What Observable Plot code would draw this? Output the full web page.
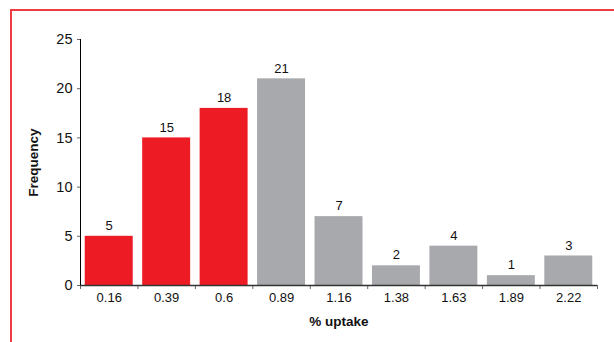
<!DOCTYPE html>
<html>
<head>
<meta charset="utf-8">
<script src="https://cdn.jsdelivr.net/npm/d3@7"></script>
<script src="https://cdn.jsdelivr.net/npm/@observablehq/plot@0.6"></script>
<style>
  html, body { margin: 0; padding: 0; background: #fff; }
  #wrap { position: relative; width: 614px; height: 342px; overflow: hidden; }
  #frame-line {
    position: absolute; left: 10px; top: 9px; right: -4px; bottom: -4px;
    border-top: 2px solid #EF3B43; border-left: 2px solid #EF3B43;
    pointer-events: none;
  }
  #chart svg { font-family: "Liberation Sans Narrow", "Arial Narrow", "Liberation Sans", sans-serif; }
  #chart [aria-label="x-axis label"] text,
  #chart [aria-label="y-axis label"] text { font-weight: bold; fill: #111; }
  #chart [aria-label="x-axis tick label"] text,
  #chart [aria-label="y-axis tick label"] text { fill: #111; }
</style>
</head>
<body>
<div id="wrap">
  <div id="chart"></div>
  <div id="frame-line"></div>
</div>
<script>
// Uptake bins (% uptake) and the number of cases in each
const bins = ["0.16", "0.39", "0.6", "0.89", "1.16", "1.38", "1.63", "1.89", "2.22"];
const counts = [5, 15, 18, 21, 7, 2, 4, 1, 3];
// Bins shown in red
const highlighted = ["0.16", "0.39", "0.6"];
const yTicks = [0, 5, 10, 15, 20, 25];

const RED = "#ED1C24";
const GREY = "#A7A9AC";
const inset = 0.0825; // half the gap between neighbouring bars, in bin units

const data = bins.map((bin, i) => ({bin, i, count: counts[i]}));

const chart = Plot.plot({
  width: 614,
  height: 342,
  marginLeft: 80,
  marginRight: 17,
  marginTop: 39,
  marginBottom: 57,
  style: {fontSize: "13px", color: "#111"},
  x: {type: "linear", domain: [0, bins.length]},
  y: {domain: [0, 25]},
  marks: [
    Plot.rectY(data, {
      x1: d => d.i + inset,
      x2: d => d.i + 1 - inset,
      y: "count",
      fill: d => highlighted.includes(d.bin) ? RED : GREY
    }),
    Plot.text(data, {
      x: d => d.i + 0.5,
      y: "count",
      text: d => String(d.count),
      dy: -10.5,
      fontSize: 13,
      fill: "#111"
    }),
    // bin boundary ticks
    Plot.axisX({
      ticks: d3.range(bins.length + 1),
      tickFormat: () => "",
      tickSize: 4,
      stroke: "#666",
      label: null
    }),
    // bin labels centred under each bar
    Plot.axisX({
      ticks: d3.range(bins.length).map(i => i + 0.5),
      tickFormat: v => bins[Math.floor(v)],
      tickSize: 0,
      tickPadding: 7,
      fontSize: 13,
      label: "% uptake",
      labelAnchor: "center",
      labelArrow: "none",
      labelOffset: 40
    }),
    Plot.axisY({
      ticks: yTicks,
      tickSize: 3,
      tickPadding: 5,
      stroke: "#666",
      fontSize: 14.5,
      label: "Frequency",
      labelAnchor: "center",
      labelArrow: "none",
      labelOffset: 52
    }),
    Plot.ruleX([0], {stroke: "#000"}),
    Plot.ruleY([0], {stroke: "#333", strokeWidth: 1.5})
  ]
});

// bold axis titles at a common size
chart.querySelectorAll('[aria-label="x-axis label"] text, [aria-label="y-axis label"] text')
  .forEach(t => t.setAttribute("font-size", "13.5"));

document.getElementById("chart").append(chart);
</script>
</body>
</html>
